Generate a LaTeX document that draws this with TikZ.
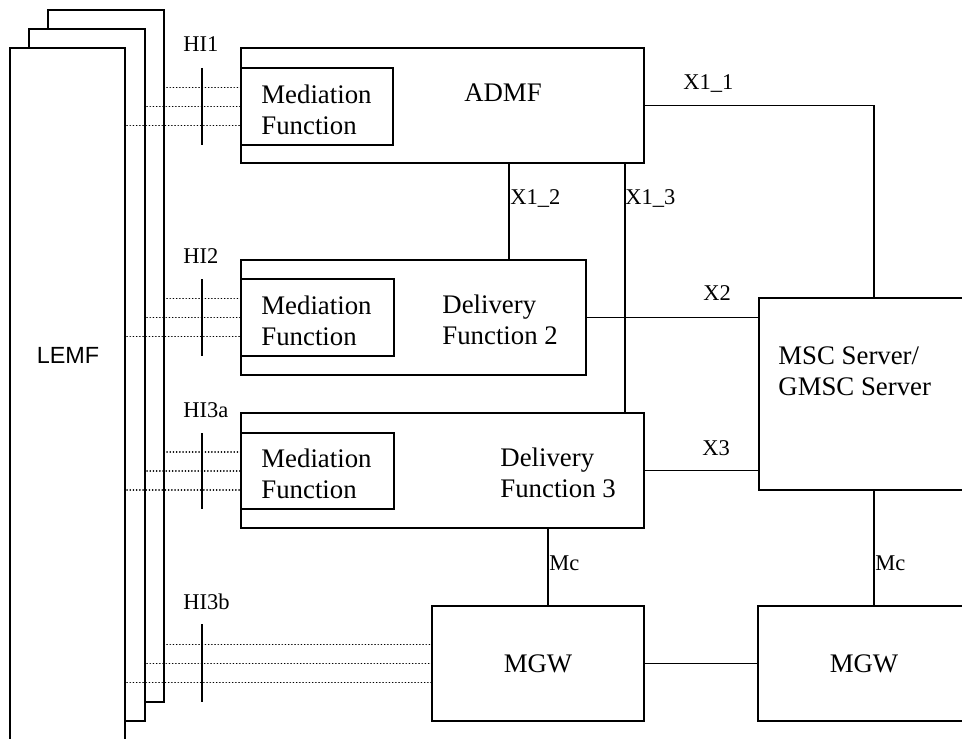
\documentclass[tikz,border=0pt]{standalone}
\usepackage{fontspec}
\setmainfont{Liberation Serif}
\newfontfamily\arialf{Liberation Sans}
\newlength\pxu
\setlength\pxu{0.5pt}
\begin{document}
\begin{tikzpicture}[x=0.5pt,y=-0.5pt,
  box/.style={draw, line width=0.6pt, inner sep=0pt, outer sep=0pt, anchor=north west, fill=white},
  conn/.style={line width=0.6pt},
  dots/.style={line width=0.85pt, line cap=round, dash pattern=on 0.05pt off 1.55pt},
  tickline/.style={line width=0.85pt},
  maintext/.style={inner sep=0pt, align=left, font=\fontsize{13.4}{15.5}\selectfont},
  lbl/.style={inner sep=0pt, anchor=base west, font=\fontsize{11.25}{13}\selectfont}]
\useasboundingbox (0,0) rectangle (962,738);
\clip (0,0) rectangle (962,738);
% LEMF stack
\node[box, minimum width=116\pxu, minimum height=692\pxu] (lemf3) at (48,10) {};
\node[box, minimum width=116\pxu, minimum height=692\pxu] (lemf2) at (29,29) {};
\node[box, minimum width=115\pxu, minimum height=720\pxu] (lemf1) at (10,48) {};
\node[inner sep=0pt, font=\arialf\fontsize{11.7}{13}\selectfont] (lemft) at (68,355) {LEMF};
% ADMF
\node[box, minimum width=403\pxu, minimum height=115\pxu] (admf) at (241,48) {};
\node[box, minimum width=152\pxu, minimum height=77\pxu] (mf1) at (241,68) {};
\node[maintext] (admft) at (503,93) {ADMF};
\node[maintext, anchor=west] (mf1t) at (261,109.5) {Mediation\\Function};
% DF2
\node[box, minimum width=345\pxu, minimum height=115\pxu] (df2) at (241,260) {};
\node[box, minimum width=153\pxu, minimum height=77\pxu] (mf2) at (241,279) {};
\node[maintext, anchor=west] (mf2t) at (261,320.5) {Mediation\\Function};
\node[maintext, anchor=west] (df2t) at (442,320) {Delivery\\Function 2};
% DF3
\node[box, minimum width=403\pxu, minimum height=115\pxu] (df3) at (241,413) {};
\node[box, minimum width=153\pxu, minimum height=76\pxu] (mf3) at (241,433) {};
\node[maintext, anchor=west] (mf3t) at (261,474) {Mediation\\Function};
\node[maintext, anchor=west] (df3t) at (500,472.5) {Delivery\\Function 3};
% MSC
\node[box, minimum width=211\pxu, minimum height=192\pxu] (msc) at (759,298) {};
\node[maintext, anchor=west] (msct) at (778,371) {MSC Server/\\GMSC Server};
% MGWs
\node[box, minimum width=212\pxu, minimum height=115\pxu] (mgw1) at (432,606) {};
\node[maintext] (mgw1t) at (538,663.5) {MGW};
\node[box, minimum width=212\pxu, minimum height=115\pxu] (mgw2) at (758,606) {};
\node[maintext] (mgw2t) at (864,663.5) {MGW};
% connector x positions
\coordinate (x11) at (874,0);
\coordinate (x12) at (509,0);
\coordinate (x13) at (625,0);
\coordinate (xm1) at (548,0);
\coordinate (xm2) at (874,0);
% connectors
\draw[conn] (admf.east) -| (msc.north -| x11);
\draw[conn] (admf.south -| x12) -- (df2.north -| x12);
\draw[conn] (admf.south -| x13) -- (df3.north -| x13);
\draw[conn] (df2.east) -- (df2.east -| msc.west);
\draw[conn] (df3.east) -- (df3.east -| msc.west);
\draw[conn] (df3.south -| xm1) -- (mgw1.north -| xm1);
\draw[conn] (msc.south -| xm2) -- (mgw2.north -| xm2);
\draw[conn] (mgw1.east) -- (mgw2.west);
% handover dotted lines
\foreach \t in {mf1,mf2,mf3,mgw1}{
  \draw[dots] ([xshift=3\pxu, yshift=19\pxu]\t.west -| lemf3.east) -- ([yshift=19\pxu]\t.west);
  \draw[dots] ([xshift=2\pxu]\t.west -| lemf2.east) -- (\t.west);
  \draw[dots] ([xshift=2\pxu, yshift=-19\pxu]\t.west -| lemf1.east) -- ([yshift=-19\pxu]\t.west);
}
% ticks
\coordinate (t1a) at (202,68);  \coordinate (t1b) at (202,145);
\coordinate (t2a) at (202,279); \coordinate (t2b) at (202,356);
\coordinate (t3a) at (202,433); \coordinate (t3b) at (202,509);
\coordinate (t4a) at (202,624); \coordinate (t4b) at (202,702);
\draw[tickline] (t1a) -- (t1b);
\draw[tickline] (t2a) -- (t2b);
\draw[tickline] (t3a) -- (t3b);
\draw[tickline] (t4a) -- (t4b);
% labels
\node[lbl] (lhi1) at (183,52) {HI1};
\node[lbl] (lhi2) at (183,263) {HI2};
\node[lbl] (lhi3a) at (183,417) {HI3a};
\node[lbl] (lhi3b) at (183,609) {HI3b};
\node[lbl] (lx11) at (683,90) {X1\_1};
\node[lbl] (lx12) at (510,204) {X1\_2};
\node[lbl] (lx13) at (625,204) {X1\_3};
\node[lbl] (lx2) at (703,300) {X2};
\node[lbl] (lx3) at (702,455) {X3};
\node[lbl] (lmc1) at (549,570) {Mc};
\node[lbl] (lmc2) at (875,570) {Mc};
\end{tikzpicture}
\end{document}
